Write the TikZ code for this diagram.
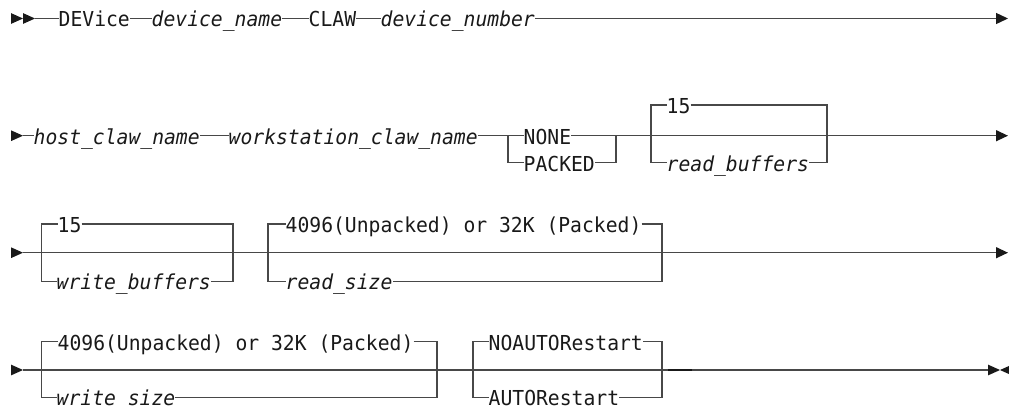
\documentclass[tikz,border=0pt]{standalone}
\usepackage{fontspec}
\setmonofont[FakeStretch=0.956]{DejaVu Sans Mono}
\usetikzlibrary{arrows.meta}
\definecolor{rule}{RGB}{72,72,72}
\definecolor{ink}{RGB}{25,25,25}
\tikzset{
  kw/.style={inner sep=0pt, text height=17pt, text depth=0.2pt, anchor=west,
             text=ink, font=\fontsize{20.6}{23}\selectfont\ttfamily},
  var/.style={kw, font=\fontsize{20.6}{23}\selectfont\ttfamily\itshape},
  track/.style={draw=rule, line width=1.35pt},
  endtip/.style={-{Triangle[length=12pt,width=11pt,color=ink]}},
  marker/.style={fill=ink},
}
% solid right-pointing triangle with its base at x=#1 on the line y=#2
\newcommand\railhead[2]{\fill[marker] (#1,#2-5.4) -- (#1+12,#2) -- (#1,#2+5.4) -- cycle;}
\begin{document}
\begin{tikzpicture}[x=1pt,y=-1pt]
\useasboundingbox (0,0) rectangle (1009,408);

% ---------- line 1 ----------
\railhead{11}{18.5}
\railhead{23}{18.5}
\coordinate (s1) at (35,18.5);
\node[kw]  (dev)   at (58.5,18.5)  {DEVice};
\node[var] (dname) at (151.5,18.5) {device\_name};
\node[kw]  (claw)  at (308.5,18.5) {CLAW};
\node[var] (dnum)  at (380.5,18.5) {device\_number};
\coordinate (e1) at (1008,18.5);
\draw[track] (s1) -- (dev.west);
\draw[track] (dev.east) -- (dname.west);
\draw[track] (dname.east) -- (claw.west);
\draw[track] (claw.east) -- (dnum.west);
\draw[track,endtip] (dnum.east) -- (e1);

% ---------- line 2 ----------
\railhead{11}{135.7}
\coordinate (s2) at (23,135.7);
\node[var] (host) at (33.5,135.7)  {host\_claw\_name};
\node[var] (ws)   at (228.5,135.7) {workstation\_claw\_name};
\node[kw]  (none)   at (523.5,135.7) {NONE};
\node[kw]  (packed) at (523.5,162.7) {PACKED};
\coordinate (aL) at (508,135.7);
\coordinate (aR) at (616,135.7);
\node[kw]  (rb15) at (666.5,105)   {15};
\node[var] (rbuf) at (666.5,162.7) {read\_buffers};
\coordinate (bL) at (651,135.7);
\coordinate (bR) at (827,135.7);
\coordinate (e2) at (1008,135.7);
\draw[track] (s2) -- (host.west);
\draw[track] (host.east) -- (ws.west);
\draw[track] (ws.east) -- (none.west);
\draw[track] (aL) |- (packed.west);
\draw[track] (none.east) -- (aR) |- (packed.east);
\draw[track,endtip] (aR) -- (e2);
\draw[track] (rb15.west) -| (bL) |- (rbuf.west);
\draw[track] (rb15.east) -| (bR) |- (rbuf.east);

% ---------- line 3 ----------
\railhead{11}{252.7}
\coordinate (s3) at (23,252.7);
\node[kw]  (wb15) at (57.5,224)   {15};
\node[var] (wbuf) at (56.5,281.5) {write\_buffers};
\coordinate (cL) at (41.7,252.7);
\coordinate (cR) at (233,252.7);
\node[kw]  (rsdef) at (285.5,224)   {4096(Unpacked) or 32K (Packed)};
\node[var] (rsize) at (285.5,281.5) {read\_size};
\coordinate (dL) at (268,252.7);
\coordinate (dR) at (662,252.7);
\coordinate (e3) at (1008,252.7);
\draw[track,endtip] (s3) -- (e3);
\draw[track] (wb15.west) -| (cL) |- (wbuf.west);
\draw[track] (wb15.east) -| (cR) |- (wbuf.east);
\draw[track] (rsdef.west) -| (dL) |- (rsize.west);
\draw[track] (rsdef.east) -| (dR) |- (rsize.east);

% ---------- line 4 ----------
\railhead{11}{370}
\coordinate (s4) at (23,370);
\node[kw]  (wsdef) at (57.5,341.7) {4096(Unpacked) or 32K (Packed)};
\node[var] (wsize) at (56.5,397.3) {write size};
\coordinate (fL) at (41.7,370);
\coordinate (fR) at (437,370);
\node[kw] (noauto) at (488.5,341.7) {NOAUTORestart};
\node[kw] (auto)   at (488.5,397.3) {AUTORestart};
\coordinate (gL) at (473,370);
\coordinate (gR) at (662,370);
\coordinate (e4) at (988,370);
\draw[track] (s4) -- (e4);
\draw[draw=ink, line width=1.8pt] (668,370) -- (692,370);
\draw[track] (wsdef.west) -| (fL) |- (wsize.west);
\draw[track] (wsdef.east) -| (fR) |- (wsize.east);
\draw[track] (noauto.west) -| (gL) |- (auto.west);
\draw[track] (noauto.east) -| (gR) |- (auto.east);
% closing marker
\railhead{988}{370}
\begin{scope}
  \clip (0,0) rectangle (1009,408);
  \fill[marker] (1012,364.6) -- (1000,370) -- (1012,375.4) -- cycle;
\end{scope}
\end{tikzpicture}
\end{document}
